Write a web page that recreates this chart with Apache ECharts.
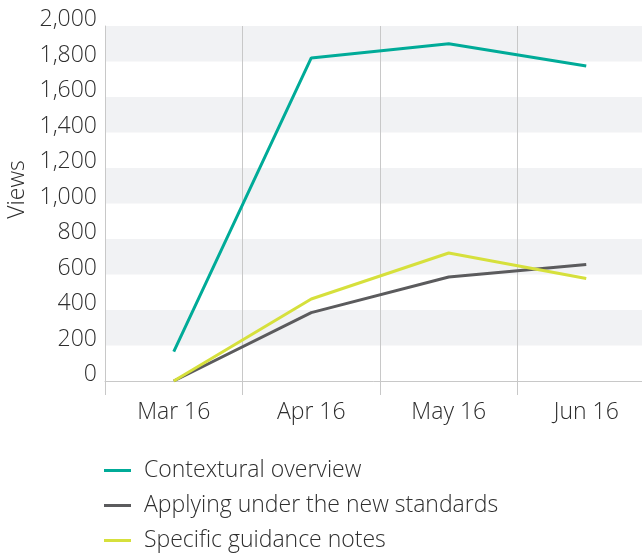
<!DOCTYPE html>
<html>
<head>
<meta charset="utf-8">
<script src="https://cdn.jsdelivr.net/npm/echarts@6/dist/echarts.min.js"></script>
<style>html,body{margin:0;padding:0;background:#fff;}#c{width:642px;height:557px;}</style>
</head>
<body>
<div id="c"></div>
<script>
const categories = ['Mar 16', 'Apr 16', 'May 16', 'Jun 16'];
const contextural = [165, 1820, 1900, 1775];
const applying = [0, 385, 586, 656];
const specific = [0, 462, 721, 577];
const seriesNames = ['Contextural overview', 'Applying under the new standards', 'Specific guidance notes'];
const colors = ['#00ab98', '#5b5b5d', '#d6e03c'];

const font = 'Open Sans';
const fw = 300;
const fs = 23;
const chart = echarts.init(document.getElementById('c'));
chart.setOption({
  animation: false,
  color: colors,
  grid: { left: 105, top: 26, width: 550, bottom: 176, outerBoundsMode: 'none', containLabel: false },
  legend: {
    orient: 'vertical',
    left: 104,
    top: 458,
    height: 120,
    padding: 0,
    icon: 'rect',
    itemWidth: 27,
    itemHeight: 3,
    itemGap: 10,
    textStyle: { fontFamily: font, fontWeight: fw, fontSize: fs, color: '#2e2e2e', lineHeight: 25, padding: [0, 0, 0, 8] },
    data: seriesNames
  },
  xAxis: {
    type: 'category',
    data: categories,
    boundaryGap: true,
    axisLine: { show: true, lineStyle: { color: '#c8c8c8', width: 1 } },
    axisTick: { show: true, length: 14, lineStyle: { color: '#c8c8c8' } },
    splitLine: { show: true, lineStyle: { color: '#c8c8c8', width: 1 } },
    axisLabel: { fontFamily: font, fontWeight: fw, fontSize: fs, color: '#2e2e2e', margin: 20 }
  },
  yAxis: {
    type: 'value',
    min: 0,
    max: 2000,
    interval: 200,
    name: 'Views',
    nameLocation: 'middle',
    nameGap: 76,
    nameTextStyle: { fontFamily: font, fontWeight: fw, fontSize: fs, color: '#2e2e2e', padding: [0, 0, 0, 28] },
    axisLine: { show: true, lineStyle: { color: '#c8c8c8' } },
    axisTick: { show: false },
    splitLine: { show: false },
    splitArea: { show: true, areaStyle: { color: ['#ffffff', '#f1f2f4'] } },
    axisLabel: {
      fontFamily: font, fontWeight: fw, fontSize: fs, color: '#2e2e2e', margin: 8,
      verticalAlign: 'bottom', lineHeight: 13,
      formatter: v => v.toLocaleString('en-US')
    }
  },
  series: [
    { name: seriesNames[0], type: 'line', data: contextural, symbol: 'none', lineStyle: { width: 3 } },
    { name: seriesNames[1], type: 'line', data: applying, symbol: 'none', lineStyle: { width: 3 } },
    { name: seriesNames[2], type: 'line', data: specific, symbol: 'none', lineStyle: { width: 3 } }
  ]
});
</script>
</body>
</html>
